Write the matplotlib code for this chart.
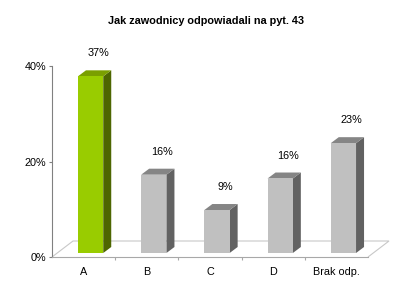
import numpy as np
import matplotlib.pyplot as plt
from matplotlib.patches import Polygon
from matplotlib.transforms import ScaledTranslation, IdentityTransform

plt.rcParams['font.family'] = ['Liberation Sans', 'DejaVu Sans']

# data
categories = ['A', 'B', 'C', 'D', 'Brak odp.']
values = [37.0, 16.4, 9.0, 15.6, 23.0]
labels = ['37%', '16%', '9%', '16%', '23%']
y_ticks = [0, 20, 40]
y_ticklabels = ['0%', '20%', '40%']
title = 'Jak zawodnicy odpowiadali na pyt. 43'

# colours: front, side, top
green = ('#99cc00', '#4d6600', '#7a9f00')
grey = ('#c0c0c0', '#626262', '#858585')

W, H = 413, 297
fig = plt.figure(figsize=(W / 100, H / 100), dpi=100)
fig.patch.set_facecolor('white')
ax = fig.add_axes([52 / W, (H - 257) / H, 316 / W, 191 / H])
ax.set_xlim(-0.5, len(categories) - 0.5)
ax.set_ylim(0, 40)

FX, FY = 7, 4        # front face offset in px
DX, DY = 8, 6        # bar depth in px
FLX, FLY = 21, 16    # floor depth in px
bw = 0.4


def shift(dx, dy):
    return ax.transData + ScaledTranslation(dx / 100, dy / 100, fig.dpi_scale_trans)


def pix(x, y, dx, dy):
    px, py = ax.transData.transform((x, y))
    return (px + dx, py + dy)


# floor
fl = [pix(-0.5, 0, 0, 0), pix(-0.5, 0, FLX, FLY),
      pix(len(categories) - 0.5, 0, FLX, FLY), pix(len(categories) - 0.5, 0, 0, 0)]
floor = Polygon(fl, closed=False, fill=False, edgecolor='#c8c8c8', lw=0.8,
                transform=IdentityTransform(), clip_on=False)
ax.add_patch(floor)

x = np.arange(len(categories))
for i, v in enumerate(values):
    front, side, top = green if i == 0 else grey
    l, r = i - bw / 2, i + bw / 2
    side_pts = [pix(r, 0, FX, FY), pix(r, 0, FX + DX, FY + DY),
                pix(r, v, FX + DX, FY + DY), pix(r, v, FX, FY)]
    top_pts = [pix(l, v, FX, FY), pix(l, v, FX + DX, FY + DY),
               pix(r, v, FX + DX, FY + DY), pix(r, v, FX, FY)]
    for pts, c in ((side_pts, side), (top_pts, top)):
        ax.add_patch(Polygon(pts, closed=True, facecolor=c, edgecolor='none',
                             transform=IdentityTransform(), clip_on=False))
    ax.text(i, v, labels[i], transform=shift(15, 27), ha='center', va='center',
            fontsize=7.8, color='black')

ax.bar(x, values, width=bw, color=[green[0]] + [grey[0]] * 4,
       transform=shift(FX, FY), clip_on=False, zorder=3)

for s in ['top', 'right']:
    ax.spines[s].set_visible(False)
ax.spines['left'].set_color('#808080')
ax.spines['bottom'].set_color('#a8a8a8')
ax.spines['left'].set_linewidth(0.8)
ax.spines['bottom'].set_linewidth(0.8)

ax.set_yticks(y_ticks)
ax.set_yticklabels(y_ticklabels, fontsize=7.8)
ax.tick_params(axis='y', direction='out', length=2.5, width=0.8, color='#808080', pad=1.5)
ax.set_xticks(x)
ax.set_xticklabels(categories, fontsize=7.8)
ax.tick_params(axis='x', length=0, pad=7)
ax.set_xticks(x[:-1] + 0.5, minor=True)
ax.tick_params(axis='x', which='minor', direction='out', length=2.5, width=0.8, color='#a8a8a8')
ax.set_facecolor('none')

fig.text(206 / W, 1 - 21 / H, title, ha='center', va='center',
         fontsize=7.8, fontweight='bold')

fig.savefig('out.png', dpi=100)
